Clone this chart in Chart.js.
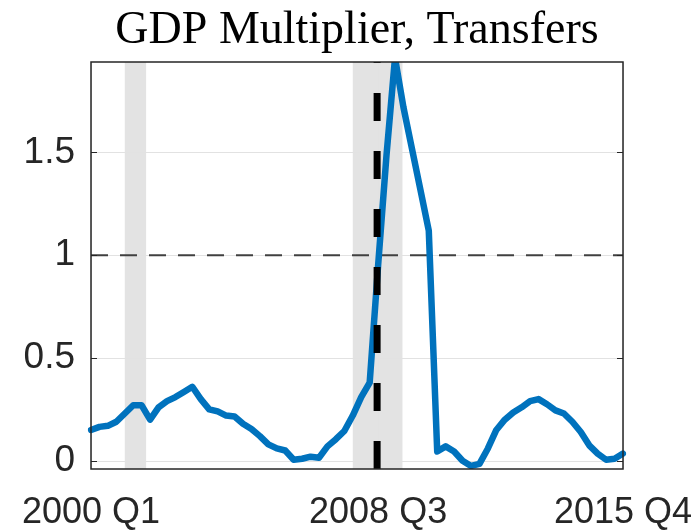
<!DOCTYPE html>
<html>
<head>
<meta charset="utf-8">
<script src="https://cdn.jsdelivr.net/npm/chart.js@4.4.0/dist/chart.umd.min.js"></script>
<style>
  body { margin: 0; background: #fff; }
  #wrap { width: 700px; height: 530px; }
</style>
</head>
<body>
<div id="wrap"><canvas id="chart" width="700" height="530"></canvas></div>
<script>
// quarters 2000 Q1 .. 2015 Q4
const quarters = [];
for (let y = 2000; y <= 2015; y++) {
    for (let q = 1; q <= 4; q++) quarters.push(y + ' Q' + q);
}

const multiplier = [
    0.15, 0.165, 0.17, 0.19, 0.23, 0.27, 0.27, 0.20, 0.26, 0.29,
    0.31, 0.335, 0.36, 0.30, 0.25, 0.24, 0.22, 0.215, 0.18, 0.155,
    0.12, 0.08, 0.06, 0.05, 0.005, 0.01, 0.02, 0.015, 0.07, 0.105,
    0.145, 0.22, 0.31, 0.38, 0.95, 1.49, 1.96, 1.72, 1.52, 1.32,
    1.12, 0.045, 0.07, 0.045, 0.0, -0.025, -0.015, 0.06, 0.15, 0.20,
    0.235, 0.26, 0.29, 0.30, 0.275, 0.245, 0.23, 0.19, 0.14, 0.075,
    0.035, 0.005, 0.01, 0.035
];

const xTickLabels = ['2000 Q1', '2008 Q3', '2015 Q4'];
const yTicks = [0, 0.5, 1, 1.5];
const recessions = [['2001 Q1', '2001 Q4'], ['2007 Q4', '2009 Q2']];
const eventQuarter = '2008 Q3';
const refLevel = 1;
const titleText = 'GDP Multiplier, Transfers';

const textColor = '#262626';

const extras = {
    id: 'extras',
    beforeDatasetsDraw(chart) {
        const { ctx, chartArea: a, scales: { x, y } } = chart;
        ctx.save();
        // recession bands
        ctx.fillStyle = '#e3e3e3';
        recessions.forEach(([s, e], i) => {
            const x0 = x.getPixelForValue(quarters.indexOf(s));
            const x1 = x.getPixelForValue(quarters.indexOf(e)) - (i === 0 ? 4 : 1);
            ctx.fillRect(x0, a.top, x1 - x0, a.bottom - a.top);
        });
        // grid lines
        ctx.strokeStyle = '#e2e2e2';
        ctx.lineWidth = 1;
        yTicks.forEach(v => {
            const py = Math.round(y.getPixelForValue(v)) + 0.5;
            ctx.beginPath(); ctx.moveTo(a.left, py); ctx.lineTo(a.right, py); ctx.stroke();
        });
        xTickLabels.forEach(l => {
            const px = Math.round(x.getPixelForValue(quarters.indexOf(l))) + 0.5;
            ctx.beginPath(); ctx.moveTo(px, a.top); ctx.lineTo(px, a.bottom); ctx.stroke();
        });
        // reference line at 1
        const py = y.getPixelForValue(refLevel);
        ctx.strokeStyle = '#404040';
        ctx.lineWidth = 2;
        ctx.setLineDash([17, 12]);
        ctx.beginPath(); ctx.moveTo(a.left, py); ctx.lineTo(a.right, py); ctx.stroke();
        ctx.restore();
    },
    afterDatasetsDraw(chart) {
        const { ctx, chartArea: a, scales: { x, y } } = chart;
        ctx.save();
        // event line
        const px = x.getPixelForValue(quarters.indexOf(eventQuarter)) - 1;
        ctx.strokeStyle = '#000';
        ctx.lineWidth = 7;
        ctx.setLineDash([28, 30]);
        ctx.beginPath(); ctx.moveTo(px, a.bottom); ctx.lineTo(px, a.top); ctx.stroke();
        ctx.setLineDash([]);
        // box + inner ticks
        ctx.strokeStyle = textColor;
        ctx.lineWidth = 1.5;
        ctx.strokeRect(a.left, a.top, a.right - a.left, a.bottom - a.top);
        ctx.lineWidth = 1;
        yTicks.forEach(v => {
            const ty = Math.round(y.getPixelForValue(v)) + 0.5;
            ctx.beginPath();
            ctx.moveTo(a.left, ty); ctx.lineTo(a.left + 6, ty);
            ctx.moveTo(a.right, ty); ctx.lineTo(a.right - 6, ty);
            ctx.stroke();
        });
        // title
        ctx.fillStyle = '#000';
        ctx.font = '46px "Liberation Serif", serif';
        ctx.textAlign = 'center';
        ctx.textBaseline = 'alphabetic';
        ctx.fillText(titleText, (a.left + a.right) / 2, 43);
        ctx.restore();
    }
};

new Chart(document.getElementById('chart'), {
    type: 'line',
    data: {
        labels: quarters,
        datasets: [{
            data: multiplier,
            borderColor: '#0072BD',
            borderWidth: 6.5,
            pointRadius: 0,
            tension: 0,
            fill: false,
            borderJoinStyle: 'round',
            borderCapStyle: 'round'
        }]
    },
    options: {
        responsive: false,
        animation: false,
        layout: { padding: { left: 0, top: 62, right: 77, bottom: 0 } },
        plugins: { legend: { display: false }, tooltip: { enabled: false }, title: { display: false } },
        scales: {
            x: {
                type: 'category',
                offset: false,
                grid: { display: false, drawTicks: false },
                border: { display: false },
                ticks: {
                    autoSkip: false,
                    maxRotation: 0,
                    padding: 22,
                    color: textColor,
                    font: { family: '"Liberation Sans", Arial, sans-serif', size: 36 },
                    callback: function (v) { return this.getLabelForValue(v); }
                },
                afterBuildTicks(scale) {
                    scale.ticks = scale.ticks.filter(t => xTickLabels.includes(quarters[t.value]));
                },
                afterFit(scale) {
                    scale.height = 61;
                    scale.paddingLeft = 0;
                    scale.paddingRight = 0;
                }
            },
            y: {
                min: -0.04,
                max: 1.94,
                grid: { display: false, drawTicks: false },
                border: { display: false },
                ticks: {
                    padding: 16,
                    color: textColor,
                    font: { family: '"Liberation Sans", Arial, sans-serif', size: 37 },
                    callback: v => String(v)
                },
                afterBuildTicks(scale) {
                    scale.ticks = yTicks.map(v => ({ value: v }));
                },
                afterFit(scale) {
                    scale.width = 91;
                    scale.paddingTop = 0;
                    scale.paddingBottom = 0;
                }
            }
        }
    },
    plugins: [extras]
});
</script>
</body>
</html>
